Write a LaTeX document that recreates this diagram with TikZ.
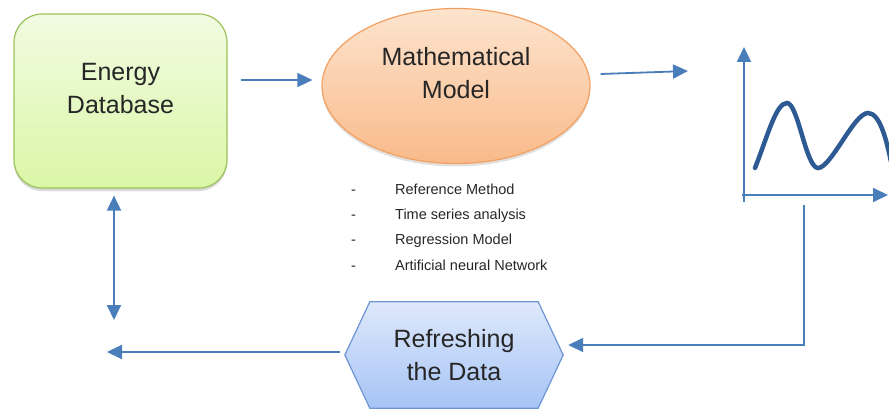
\documentclass[tikz,border=0pt]{standalone}
\usepackage{fontspec}
\setmainfont{Liberation Sans}
\usepackage{tikz}
\usetikzlibrary{arrows.meta, shapes.geometric, calc, backgrounds, shadows}

\definecolor{arrowblue}{RGB}{74,126,187}
\definecolor{curveblue}{RGB}{46,90,148}
\definecolor{textgray}{RGB}{38,38,38}
\definecolor{dbline}{RGB}{155,194,89}
\definecolor{dbtop}{RGB}{241,251,226}
\definecolor{dbbot}{RGB}{218,247,166}
\definecolor{mmline}{RGB}{244,160,96}
\definecolor{mmtop}{RGB}{253,228,206}
\definecolor{mmbot}{RGB}{249,186,138}
\definecolor{rdline}{RGB}{110,150,212}
\definecolor{rdtop}{RGB}{222,232,251}
\definecolor{rdbot}{RGB}{166,196,246}

\newcommand\bigfont{\fontsize{25}{33}\selectfont\color{textgray}}
\newcommand\listfont{\fontsize{14.5}{18}\selectfont\color{textgray}}

\begin{document}
\begin{tikzpicture}[x=1pt, y=-1pt,
  dbbox/.style={draw=dbline, line width=1.2pt, rounded corners=28pt, top color=dbtop, bottom color=dbbot,
    minimum width=213pt, minimum height=174pt, align=center, font=\bigfont, text depth=26pt,
    drop shadow={shadow xshift=0pt, shadow yshift=-3pt, opacity=.15, fill=black}},
  modelell/.style={ellipse, draw=mmline, line width=1.2pt, top color=mmtop, bottom color=mmbot,
    minimum width=268pt, minimum height=155pt, align=center, font=\bigfont, text depth=26pt,
    drop shadow={shadow xshift=0pt, shadow yshift=-3pt, opacity=.12, fill=black}},
  hexnode/.style={minimum width=218pt, minimum height=106pt, align=center, font=\bigfont},
  hexline/.style={draw=rdline, line width=1.2pt, top color=rdtop, bottom color=rdbot},
  conn/.style={-{Triangle[length=15pt, width=14pt]}, draw=arrowblue, line width=1.8pt},
  axis/.style={-{Triangle[length=15pt, width=14pt]}, draw=arrowblue, line width=1.8pt},
  item/.style={anchor=base west, inner sep=0pt, font=\listfont}
]
\useasboundingbox (0,0) rectangle (889,409);

\node[dbbox] (db) at (120.5,101) {Energy\\Database};
\node[modelell] (mm) at (456,86) {Mathematical\\Model};
\node[hexnode] (rd) at (454,355) {Refreshing\\the Data};
\begin{scope}[on background layer]
  \draw[hexline] (rd.west) -- ([xshift=25pt]rd.north west) -- ([xshift=-25pt]rd.north east)
    -- (rd.east) -- ([xshift=-25pt]rd.south east) -- ([xshift=25pt]rd.south west) -- cycle;
\end{scope}

% chart
\coordinate (org) at (744,195);
\coordinate (chartin) at (688,71);
\coordinate (chartout) at (804,205);
\draw[axis] ([yshift=-7pt]org) -- ++(0,-155);
\draw[axis] ([xshift=-2pt]org) -- ++(146,0);
\draw[curveblue, line width=4.5pt, line cap=round]
  (755,168) .. controls (768,135) and (776,103) .. (787,103)
  .. controls (798,103) and (806,168) .. (818,168)
  .. controls (831,168) and (854,113) .. (868,113)
  .. controls (880,113) and (887,140) .. (893,172);

% list of methods
\foreach \t [count=\i] in {Reference Method, Time series analysis, Regression Model, Artificial neural Network} {
  \node[item] (dash\i) at (351,169+25.3*\i) {-};
  \node[item] (item\i) at (395,169+25.3*\i) {\t};
}

% connectors
\coordinate (dbdown) at (114,320);
\coordinate (dbret) at (107,352);
\draw[conn] ([xshift=13pt,yshift=21pt]db.east) -- ([xshift=-9pt,yshift=6pt]mm.west);
\draw[conn] ([xshift=10pt,yshift=12pt]mm.east) -- (chartin);
\draw[conn] (chartout) |- ([xshift=5pt,yshift=10pt]rd.east);
\draw[conn] ([xshift=-5pt,yshift=3pt]rd.west) -- (dbret);
\draw[conn, {Triangle[length=15pt, width=14pt]}-{Triangle[length=15pt, width=14pt]}] ([xshift=-6.5pt,yshift=-7pt]db.south) -- (dbdown);
\end{tikzpicture}
\end{document}
